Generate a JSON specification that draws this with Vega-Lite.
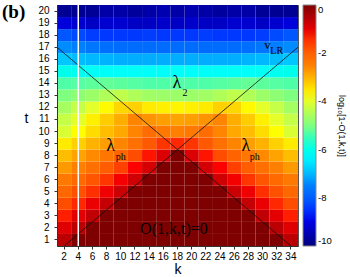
{
"$schema":"https://vega.github.io/schema/vega-lite/v6.json",
"autosize":{"type":"none"},
"width":241,"height":241,
"padding":{"left":57,"top":5,"right":52,"bottom":31},
"background":"white",
"title":{"text":"(b)","anchor":"start","frame":"group","font":"Liberation Serif","fontSize":19,"fontWeight":"bold","color":"black","dx":-55,"dy":18,"offset":0},
"config":{"view":{"stroke":"#555","strokeWidth":1},"font":"Liberation Sans",
 "axis":{"labelFont":"Liberation Sans","labelFontSize":10,"labelColor":"black","titleFont":"Liberation Sans","titleFontSize":14,"titleFontWeight":"normal","titleColor":"black","domainColor":"#333","tickColor":"#333","tickSize":3,"grid":false,"labelOverlap":false},
 "legend":{"offset":5,"gradientLength":241,"gradientThickness":13,"gradientStrokeColor":"#888","gradientStrokeWidth":1,"labelFont":"Liberation Sans","labelFontSize":9.5,"labelColor":"black","labelOffset":7,"titleFont":"Liberation Sans","titleFontSize":9,"titleFontWeight":"normal","titleColor":"black"}},
"layer":[
{"data":{"values":[
{"k":2,"t":1,"v":-0.6},{"k":4,"t":1,"v":0},{"k":6,"t":1,"v":0},{"k":8,"t":1,"v":0},{"k":10,"t":1,"v":0},{"k":12,"t":1,"v":0},{"k":14,"t":1,"v":0},{"k":16,"t":1,"v":0},{"k":18,"t":1,"v":0},{"k":20,"t":1,"v":0},{"k":22,"t":1,"v":0},{"k":24,"t":1,"v":0},{"k":26,"t":1,"v":0},{"k":28,"t":1,"v":0},{"k":30,"t":1,"v":0},{"k":32,"t":1,"v":0},{"k":34,"t":1,"v":-0.6},
{"k":2,"t":2,"v":-0.95},{"k":4,"t":2,"v":-0.6},{"k":6,"t":2,"v":0},{"k":8,"t":2,"v":0},{"k":10,"t":2,"v":0},{"k":12,"t":2,"v":0},{"k":14,"t":2,"v":0},{"k":16,"t":2,"v":0},{"k":18,"t":2,"v":0},{"k":20,"t":2,"v":0},{"k":22,"t":2,"v":0},{"k":24,"t":2,"v":0},{"k":26,"t":2,"v":0},{"k":28,"t":2,"v":0},{"k":30,"t":2,"v":0},{"k":32,"t":2,"v":-0.6},{"k":34,"t":2,"v":-0.95},
{"k":2,"t":3,"v":-1.35},{"k":4,"t":3,"v":-1.0},{"k":6,"t":3,"v":-0.65},{"k":8,"t":3,"v":0},{"k":10,"t":3,"v":0},{"k":12,"t":3,"v":0},{"k":14,"t":3,"v":0},{"k":16,"t":3,"v":0},{"k":18,"t":3,"v":0},{"k":20,"t":3,"v":0},{"k":22,"t":3,"v":0},{"k":24,"t":3,"v":0},{"k":26,"t":3,"v":0},{"k":28,"t":3,"v":0},{"k":30,"t":3,"v":-0.65},{"k":32,"t":3,"v":-1.0},{"k":34,"t":3,"v":-1.35},
{"k":2,"t":4,"v":-1.75},{"k":4,"t":4,"v":-1.4},{"k":6,"t":4,"v":-1.05},{"k":8,"t":4,"v":-0.7},{"k":10,"t":4,"v":0},{"k":12,"t":4,"v":0},{"k":14,"t":4,"v":0},{"k":16,"t":4,"v":0},{"k":18,"t":4,"v":0},{"k":20,"t":4,"v":0},{"k":22,"t":4,"v":0},{"k":24,"t":4,"v":0},{"k":26,"t":4,"v":0},{"k":28,"t":4,"v":-0.7},{"k":30,"t":4,"v":-1.05},{"k":32,"t":4,"v":-1.4},{"k":34,"t":4,"v":-1.75},
{"k":2,"t":5,"v":-2.1},{"k":4,"t":5,"v":-1.8},{"k":6,"t":5,"v":-1.45},{"k":8,"t":5,"v":-1.1},{"k":10,"t":5,"v":-0.75},{"k":12,"t":5,"v":0},{"k":14,"t":5,"v":0},{"k":16,"t":5,"v":0},{"k":18,"t":5,"v":0},{"k":20,"t":5,"v":0},{"k":22,"t":5,"v":0},{"k":24,"t":5,"v":0},{"k":26,"t":5,"v":-0.75},{"k":28,"t":5,"v":-1.1},{"k":30,"t":5,"v":-1.45},{"k":32,"t":5,"v":-1.8},{"k":34,"t":5,"v":-2.1},
{"k":2,"t":6,"v":-2.4},{"k":4,"t":6,"v":-2.15},{"k":6,"t":6,"v":-1.85},{"k":8,"t":6,"v":-1.5},{"k":10,"t":6,"v":-1.15},{"k":12,"t":6,"v":-0.8},{"k":14,"t":6,"v":0},{"k":16,"t":6,"v":0},{"k":18,"t":6,"v":0},{"k":20,"t":6,"v":0},{"k":22,"t":6,"v":0},{"k":24,"t":6,"v":-0.8},{"k":26,"t":6,"v":-1.15},{"k":28,"t":6,"v":-1.5},{"k":30,"t":6,"v":-1.85},{"k":32,"t":6,"v":-2.15},{"k":34,"t":6,"v":-2.4},
{"k":2,"t":7,"v":-2.75},{"k":4,"t":7,"v":-2.5},{"k":6,"t":7,"v":-2.25},{"k":8,"t":7,"v":-1.95},{"k":10,"t":7,"v":-1.6},{"k":12,"t":7,"v":-1.25},{"k":14,"t":7,"v":-0.85},{"k":16,"t":7,"v":0},{"k":18,"t":7,"v":0},{"k":20,"t":7,"v":0},{"k":22,"t":7,"v":-0.85},{"k":24,"t":7,"v":-1.25},{"k":26,"t":7,"v":-1.6},{"k":28,"t":7,"v":-1.95},{"k":30,"t":7,"v":-2.25},{"k":32,"t":7,"v":-2.5},{"k":34,"t":7,"v":-2.75},
{"k":2,"t":8,"v":-3.1},{"k":4,"t":8,"v":-2.85},{"k":6,"t":8,"v":-2.6},{"k":8,"t":8,"v":-2.35},{"k":10,"t":8,"v":-2.05},{"k":12,"t":8,"v":-1.75},{"k":14,"t":8,"v":-1.3},{"k":16,"t":8,"v":-0.9},{"k":18,"t":8,"v":0},{"k":20,"t":8,"v":-0.9},{"k":22,"t":8,"v":-1.3},{"k":24,"t":8,"v":-1.75},{"k":26,"t":8,"v":-2.05},{"k":28,"t":8,"v":-2.35},{"k":30,"t":8,"v":-2.6},{"k":32,"t":8,"v":-2.85},{"k":34,"t":8,"v":-3.1},
{"k":2,"t":9,"v":-3.55},{"k":4,"t":9,"v":-3.3},{"k":6,"t":9,"v":-3.0},{"k":8,"t":9,"v":-2.8},{"k":10,"t":9,"v":-2.55},{"k":12,"t":9,"v":-2.25},{"k":14,"t":9,"v":-1.9},{"k":16,"t":9,"v":-1.5},{"k":18,"t":9,"v":-1.4},{"k":20,"t":9,"v":-1.5},{"k":22,"t":9,"v":-1.9},{"k":24,"t":9,"v":-2.25},{"k":26,"t":9,"v":-2.55},{"k":28,"t":9,"v":-2.8},{"k":30,"t":9,"v":-3.0},{"k":32,"t":9,"v":-3.3},{"k":34,"t":9,"v":-3.55},
{"k":2,"t":10,"v":-4.1},{"k":4,"t":10,"v":-3.75},{"k":6,"t":10,"v":-3.4},{"k":8,"t":10,"v":-3.1},{"k":10,"t":10,"v":-2.9},{"k":12,"t":10,"v":-2.55},{"k":14,"t":10,"v":-2.2},{"k":16,"t":10,"v":-2.4},{"k":18,"t":10,"v":-2.5},{"k":20,"t":10,"v":-2.4},{"k":22,"t":10,"v":-2.2},{"k":24,"t":10,"v":-2.55},{"k":26,"t":10,"v":-2.9},{"k":28,"t":10,"v":-3.1},{"k":30,"t":10,"v":-3.4},{"k":32,"t":10,"v":-3.75},{"k":34,"t":10,"v":-4.1},
{"k":2,"t":11,"v":-4.3},{"k":4,"t":11,"v":-4.0},{"k":6,"t":11,"v":-3.6},{"k":8,"t":11,"v":-3.25},{"k":10,"t":11,"v":-2.95},{"k":12,"t":11,"v":-2.55},{"k":14,"t":11,"v":-2.7},{"k":16,"t":11,"v":-2.8},{"k":18,"t":11,"v":-2.85},{"k":20,"t":11,"v":-2.8},{"k":22,"t":11,"v":-2.7},{"k":24,"t":11,"v":-2.55},{"k":26,"t":11,"v":-2.95},{"k":28,"t":11,"v":-3.25},{"k":30,"t":11,"v":-3.6},{"k":32,"t":11,"v":-4.0},{"k":34,"t":11,"v":-4.3},
{"k":2,"t":12,"v":-4.6},{"k":4,"t":12,"v":-4.3},{"k":6,"t":12,"v":-4.0},{"k":8,"t":12,"v":-3.7},{"k":10,"t":12,"v":-3.35},{"k":12,"t":12,"v":-3.3},{"k":14,"t":12,"v":-3.55},{"k":16,"t":12,"v":-3.6},{"k":18,"t":12,"v":-3.65},{"k":20,"t":12,"v":-3.6},{"k":22,"t":12,"v":-3.55},{"k":24,"t":12,"v":-3.3},{"k":26,"t":12,"v":-3.35},{"k":28,"t":12,"v":-3.7},{"k":30,"t":12,"v":-4.0},{"k":32,"t":12,"v":-4.3},{"k":34,"t":12,"v":-4.6},
{"k":2,"t":13,"v":-5.0},{"k":4,"t":13,"v":-4.85},{"k":6,"t":13,"v":-4.7},{"k":8,"t":13,"v":-4.5},{"k":10,"t":13,"v":-4.35},{"k":12,"t":13,"v":-4.5},{"k":14,"t":13,"v":-4.65},{"k":16,"t":13,"v":-4.7},{"k":18,"t":13,"v":-4.7},{"k":20,"t":13,"v":-4.7},{"k":22,"t":13,"v":-4.65},{"k":24,"t":13,"v":-4.5},{"k":26,"t":13,"v":-4.35},{"k":28,"t":13,"v":-4.5},{"k":30,"t":13,"v":-4.7},{"k":32,"t":13,"v":-4.85},{"k":34,"t":13,"v":-5.0},
{"k":2,"t":14,"v":-5.35},{"k":4,"t":14,"v":-5.3},{"k":6,"t":14,"v":-5.25},{"k":8,"t":14,"v":-5.2},{"k":10,"t":14,"v":-5.25},{"k":12,"t":14,"v":-5.3},{"k":14,"t":14,"v":-5.35},{"k":16,"t":14,"v":-5.35},{"k":18,"t":14,"v":-5.35},{"k":20,"t":14,"v":-5.35},{"k":22,"t":14,"v":-5.35},{"k":24,"t":14,"v":-5.3},{"k":26,"t":14,"v":-5.25},{"k":28,"t":14,"v":-5.2},{"k":30,"t":14,"v":-5.25},{"k":32,"t":14,"v":-5.3},{"k":34,"t":14,"v":-5.35},
{"k":2,"t":15,"v":-6.0},{"k":4,"t":15,"v":-6.05},{"k":6,"t":15,"v":-6.1},{"k":8,"t":15,"v":-6.15},{"k":10,"t":15,"v":-6.15},{"k":12,"t":15,"v":-6.15},{"k":14,"t":15,"v":-6.15},{"k":16,"t":15,"v":-6.15},{"k":18,"t":15,"v":-6.15},{"k":20,"t":15,"v":-6.15},{"k":22,"t":15,"v":-6.15},{"k":24,"t":15,"v":-6.15},{"k":26,"t":15,"v":-6.15},{"k":28,"t":15,"v":-6.15},{"k":30,"t":15,"v":-6.1},{"k":32,"t":15,"v":-6.05},{"k":34,"t":15,"v":-6.0},
{"k":2,"t":16,"v":-6.85},{"k":4,"t":16,"v":-6.95},{"k":6,"t":16,"v":-7.0},{"k":8,"t":16,"v":-7.05},{"k":10,"t":16,"v":-7.1},{"k":12,"t":16,"v":-7.1},{"k":14,"t":16,"v":-7.1},{"k":16,"t":16,"v":-7.1},{"k":18,"t":16,"v":-7.1},{"k":20,"t":16,"v":-7.1},{"k":22,"t":16,"v":-7.1},{"k":24,"t":16,"v":-7.1},{"k":26,"t":16,"v":-7.1},{"k":28,"t":16,"v":-7.05},{"k":30,"t":16,"v":-7.0},{"k":32,"t":16,"v":-6.95},{"k":34,"t":16,"v":-6.85},
{"k":2,"t":17,"v":-7.4},{"k":4,"t":17,"v":-7.5},{"k":6,"t":17,"v":-7.65},{"k":8,"t":17,"v":-7.75},{"k":10,"t":17,"v":-7.8},{"k":12,"t":17,"v":-7.8},{"k":14,"t":17,"v":-7.8},{"k":16,"t":17,"v":-7.8},{"k":18,"t":17,"v":-7.8},{"k":20,"t":17,"v":-7.8},{"k":22,"t":17,"v":-7.8},{"k":24,"t":17,"v":-7.8},{"k":26,"t":17,"v":-7.8},{"k":28,"t":17,"v":-7.75},{"k":30,"t":17,"v":-7.65},{"k":32,"t":17,"v":-7.5},{"k":34,"t":17,"v":-7.4},
{"k":2,"t":18,"v":-8.1},{"k":4,"t":18,"v":-8.25},{"k":6,"t":18,"v":-8.4},{"k":8,"t":18,"v":-8.45},{"k":10,"t":18,"v":-8.45},{"k":12,"t":18,"v":-8.45},{"k":14,"t":18,"v":-8.4},{"k":16,"t":18,"v":-8.45},{"k":18,"t":18,"v":-8.45},{"k":20,"t":18,"v":-8.45},{"k":22,"t":18,"v":-8.4},{"k":24,"t":18,"v":-8.45},{"k":26,"t":18,"v":-8.45},{"k":28,"t":18,"v":-8.45},{"k":30,"t":18,"v":-8.4},{"k":32,"t":18,"v":-8.25},{"k":34,"t":18,"v":-8.1},
{"k":2,"t":19,"v":-9.1},{"k":4,"t":19,"v":-9.2},{"k":6,"t":19,"v":-9.3},{"k":8,"t":19,"v":-9.2},{"k":10,"t":19,"v":-9.2},{"k":12,"t":19,"v":-9.3},{"k":14,"t":19,"v":-9.3},{"k":16,"t":19,"v":-9.25},{"k":18,"t":19,"v":-9.3},{"k":20,"t":19,"v":-9.25},{"k":22,"t":19,"v":-9.3},{"k":24,"t":19,"v":-9.3},{"k":26,"t":19,"v":-9.2},{"k":28,"t":19,"v":-9.2},{"k":30,"t":19,"v":-9.3},{"k":32,"t":19,"v":-9.2},{"k":34,"t":19,"v":-9.1},
{"k":2,"t":20,"v":-9.8},{"k":4,"t":20,"v":-9.8},{"k":6,"t":20,"v":-9.75},{"k":8,"t":20,"v":-9.6},{"k":10,"t":20,"v":-9.6},{"k":12,"t":20,"v":-9.7},{"k":14,"t":20,"v":-9.6},{"k":16,"t":20,"v":-9.5},{"k":18,"t":20,"v":-9.6},{"k":20,"t":20,"v":-9.5},{"k":22,"t":20,"v":-9.6},{"k":24,"t":20,"v":-9.7},{"k":26,"t":20,"v":-9.6},{"k":28,"t":20,"v":-9.6},{"k":30,"t":20,"v":-9.75},{"k":32,"t":20,"v":-9.8},{"k":34,"t":20,"v":-9.8}
]},
"mark":{"type":"rect"},
"encoding":{
 "x":{"field":"k","type":"ordinal","scale":{"paddingInner":0,"paddingOuter":0},"axis":{"title":"k","labelAngle":0,"labelPadding":2,"titlePadding":1}},
 "y":{"field":"t","type":"ordinal","sort":"descending","scale":{"paddingInner":0,"paddingOuter":0},"axis":{"title":"t","titleAngle":0,"titlePadding":12,"labelPadding":5}},
 "color":{"field":"v","type":"quantitative","scale":{"type":"linear","domain":[-10,-8.75,-7.5,-6.25,-5,-3.75,-2.5,-1.25,0],"range":["#00007f","#0000ff","#007fff","#00ffff","#7fff7f","#ffff00","#ff7f00","#ff0000","#7f0000"]},"legend":{"type":"gradient","direction":"vertical","title":"log₁₀[1-O(1,k,t)]","values":[0,-2,-4,-6,-8,-10],"labelExpr":"'' + datum.value","titleOrient":"right","titleAngle":270,"titleAnchor":"middle","titleBaseline":"bottom","titlePadding":5}}
}},
{"layer":[
 {"data":{"values":[{"k1":1,"t1":17,"k2":34,"t2":0.5},{"k1":2,"t1":0.5,"k2":35,"t2":17}]},
  "mark":{"type":"rule","color":"#111","strokeWidth":0.8},
  "encoding":{"x":{"field":"k1","type":"quantitative","scale":{"domain":[1,35],"nice":false,"zero":false},"axis":null},"x2":{"field":"k2"},"y":{"field":"t1","type":"quantitative","scale":{"domain":[0.5,20.5],"nice":false,"zero":false},"axis":null},"y2":{"field":"t2"}}},
 {"data":{"values":[{"k1":4,"t1":0.5,"k2":4,"t2":20.5}]},
  "mark":{"type":"rule","color":"white","strokeWidth":1.5},
  "encoding":{"x":{"field":"k1","type":"quantitative","axis":null},"x2":{"field":"k2"},"y":{"field":"t1","type":"quantitative","axis":null},"y2":{"field":"t2"}}},
 {"data":{"values":[{"k":17.9,"t":14.0,"label":"λ"},{"k":8.55,"t":8.76,"label":"λ"},{"k":27.66,"t":8.76,"label":"λ"}]},
  "mark":{"type":"text","font":"Liberation Serif","fontSize":18,"color":"black","align":"center","baseline":"middle"},
  "encoding":{"x":{"field":"k","type":"quantitative","axis":null},"y":{"field":"t","type":"quantitative","axis":null},"text":{"field":"label"}}},
 {"data":{"values":[{"k":30.7,"t":17.15,"label":"v"}]},
  "mark":{"type":"text","font":"Liberation Serif","fontSize":13,"color":"black","align":"center","baseline":"middle"},
  "encoding":{"x":{"field":"k","type":"quantitative","axis":null},"y":{"field":"t","type":"quantitative","axis":null},"text":{"field":"label"}}},
 {"data":{"values":[{"k":19.05,"t":13.2,"label":"2"},{"k":10.0,"t":7.9,"label":"ph"},{"k":28.9,"t":7.9,"label":"ph"},{"k":32.0,"t":16.7,"label":"LR"}]},
  "mark":{"type":"text","font":"Liberation Serif","fontSize":10,"color":"black","align":"center","baseline":"middle"},
  "encoding":{"x":{"field":"k","type":"quantitative","axis":null},"y":{"field":"t","type":"quantitative","axis":null},"text":{"field":"label"}}},
 {"data":{"values":[{"k":17.5,"t":1.9,"label":"O(1,k,t)=0"}]},
  "mark":{"type":"text","font":"Liberation Serif","fontSize":16,"color":"black","align":"center","baseline":"middle"},
  "encoding":{"x":{"field":"k","type":"quantitative","axis":null},"y":{"field":"t","type":"quantitative","axis":null},"text":{"field":"label"}}}
]}
],
"resolve":{"scale":{"x":"independent","y":"independent"}}
}
